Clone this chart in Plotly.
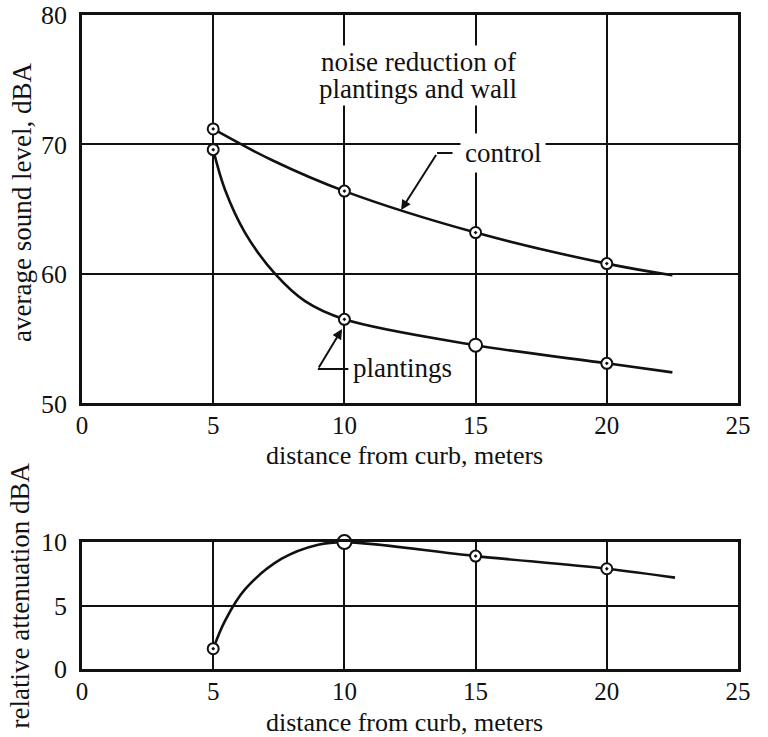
import plotly.graph_objects as go

# measured points
distances = [5, 10, 15, 20]
control_levels = [71.2, 66.4, 63.2, 60.8]
plantings_levels = [69.6, 56.5, 54.5, 53.1]
attenuation_x = [5, 10, 15, 20]
attenuation = [1.6, 10.0, 8.9, 7.9]

# hand-drawn curves
control_curve_x = [5, 7.23, 10, 15, 20, 22.5]
control_curve_y = [71.2, 68.8, 66.4, 63.2, 60.8, 59.9]
plantings_curve_x = [5, 5.45, 6.21, 7.36, 8.5, 10, 15, 20, 22.5]
plantings_curve_y = [69.6, 66.5, 63.2, 60.0, 57.9, 56.5, 54.5, 53.1, 52.4]
atten_curve_x = [5, 5.45, 6.21, 7.61, 9.0, 10, 15, 20, 22.6]
atten_curve_y = [1.6, 3.8, 6.27, 8.69, 9.8, 10.0, 8.9, 7.9, 7.2]

x_ticks = [0, 5, 10, 15, 20, 25]
top_y_ticks = [50, 60, 70, 80]
bottom_y_ticks = [0, 5, 10]

FONT = "Liberation Serif, Times New Roman, serif"
FS = 26
BLACK = "#111111"

fig = go.Figure()

line_style = dict(color=BLACK, width=2.6, shape="spline", smoothing=1.0)

fig.add_trace(go.Scatter(x=control_curve_x, y=control_curve_y, mode="lines",
                         line=line_style, xaxis="x", yaxis="y", hoverinfo="skip"))
fig.add_trace(go.Scatter(x=plantings_curve_x, y=plantings_curve_y, mode="lines",
                         line=line_style, xaxis="x", yaxis="y", hoverinfo="skip"))
fig.add_trace(go.Scatter(x=atten_curve_x, y=atten_curve_y, mode="lines",
                         line=line_style, xaxis="x2", yaxis="y2", hoverinfo="skip"))

mk = dict(color="#ffffff", size=11, opacity=1, line=dict(color=BLACK, width=2))
fig.add_trace(go.Scatter(x=distances, y=control_levels, mode="markers",
                         marker=dict(mk, symbol="circle-dot"), xaxis="x", yaxis="y",
                         cliponaxis=False))
fig.add_trace(go.Scatter(x=distances, y=plantings_levels, mode="markers",
                         marker=dict(mk, symbol=["circle-dot", "circle-dot", "circle", "circle-dot"],
                                     size=[11, 11, 13, 11]),
                         xaxis="x", yaxis="y", cliponaxis=False))
fig.add_trace(go.Scatter(x=attenuation_x, y=attenuation, mode="markers",
                         marker=dict(mk, symbol=["circle-dot", "circle", "circle-dot", "circle-dot"],
                                     size=[11, 14, 11, 11]),
                         xaxis="x2", yaxis="y2", cliponaxis=False))

axis_common = dict(
    showline=True, mirror=True, linecolor=BLACK, linewidth=2.5,
    showgrid=True, gridcolor=BLACK, gridwidth=1.6, zeroline=False,
    ticks="", automargin=False, ticklabeloverflow="allow",
    tickfont=dict(family=FONT, size=FS, color=BLACK),
)
xtickfont = dict(family=FONT, size=25, color=BLACK)

fig.update_layout(
    template="none",
    width=768, height=737,
    margin=dict(l=82, r=30, t=15, b=68, autoexpand=False),
    paper_bgcolor="white", plot_bgcolor="white",
    showlegend=False,
    font=dict(family=FONT, size=FS, color=BLACK),
    xaxis=dict(axis_common, range=[0, 25], tickvals=x_ticks, domain=[0, 1],
               anchor="y", ticklabelstandoff=-2, tickfont=xtickfont),
    yaxis=dict(axis_common, range=[50, 80], tickvals=top_y_ticks, domain=[0.406, 1],
               anchor="x", ticklabelstandoff=7),
    xaxis2=dict(axis_common, range=[0, 25], tickvals=x_ticks, domain=[0, 1],
                anchor="y2", ticklabelstandoff=-2, tickfont=xtickfont),
    yaxis2=dict(axis_common, range=[0, 10], tickvals=bottom_y_ticks, domain=[0, 0.194],
                anchor="x2", ticklabelstandoff=7),
)

ann_font = dict(family=FONT, size=27, color=BLACK)
title_font = dict(family=FONT, size=26, color=BLACK)
annotations = [
    # in-plot labels
    dict(x=12.82, y=76.35, xref="x", yref="y", text="noise reduction of", showarrow=False,
         font=ann_font, bgcolor="white", borderpad=1),
    dict(x=12.82, y=74.25, xref="x", yref="y", text="plantings and wall", showarrow=False,
         font=ann_font, bgcolor="white", borderpad=1),
    dict(x=16.04, y=69.34, xref="x", yref="y", text="control", showarrow=False,
         font=ann_font, bgcolor="white", borderpad=4),
    dict(x=12.2, y=52.74, xref="x", yref="y", text="plantings", showarrow=False,
         font=ann_font),
    # leader arrows
    dict(x=12.16, y=64.94, ax=13.53, ay=69.3, xref="x", yref="y", axref="x", ayref="y",
         text="", showarrow=True, arrowhead=2, arrowsize=1, arrowwidth=2, arrowcolor=BLACK),
    dict(x=9.91, y=55.75, ax=8.99, ay=52.66, xref="x", yref="y", axref="x", ayref="y",
         text="", showarrow=True, arrowhead=2, arrowsize=1, arrowwidth=2, arrowcolor=BLACK),
    # axis titles
    dict(x=0.491, y=0.327, xref="paper", yref="paper", text="distance from curb, meters",
         showarrow=False, font=title_font, xanchor="center", yanchor="middle"),
    dict(x=0.491, y=-0.082, xref="paper", yref="paper", text="distance from curb, meters",
         showarrow=False, font=title_font, xanchor="center", yanchor="middle"),
    dict(x=-0.0915, y=0.714, xref="paper", yref="paper", text="average sound level, dBA",
         showarrow=False, font=ann_font, textangle=-90, xanchor="center", yanchor="middle"),
    dict(x=-0.094, y=0.113, xref="paper", yref="paper", text="relative attenuation dBA",
         showarrow=False, font=ann_font, textangle=-90, xanchor="center", yanchor="middle"),
]
fig.update_layout(annotations=annotations)

fig.update_layout(shapes=[
    dict(type="line", xref="x", yref="y", x0=13.53, y0=69.34, x1=14.12, y1=69.34,
         line=dict(color=BLACK, width=2)),
    dict(type="line", xref="x", yref="y", x0=8.99, y0=52.66, x1=10.15, y1=52.66,
         line=dict(color=BLACK, width=2)),
])

fig.write_html(
    "out.html",
    config={"displayModeBar": False},
    post_script="document.body.style.margin='0';document.body.style.overflow='hidden';",
)
